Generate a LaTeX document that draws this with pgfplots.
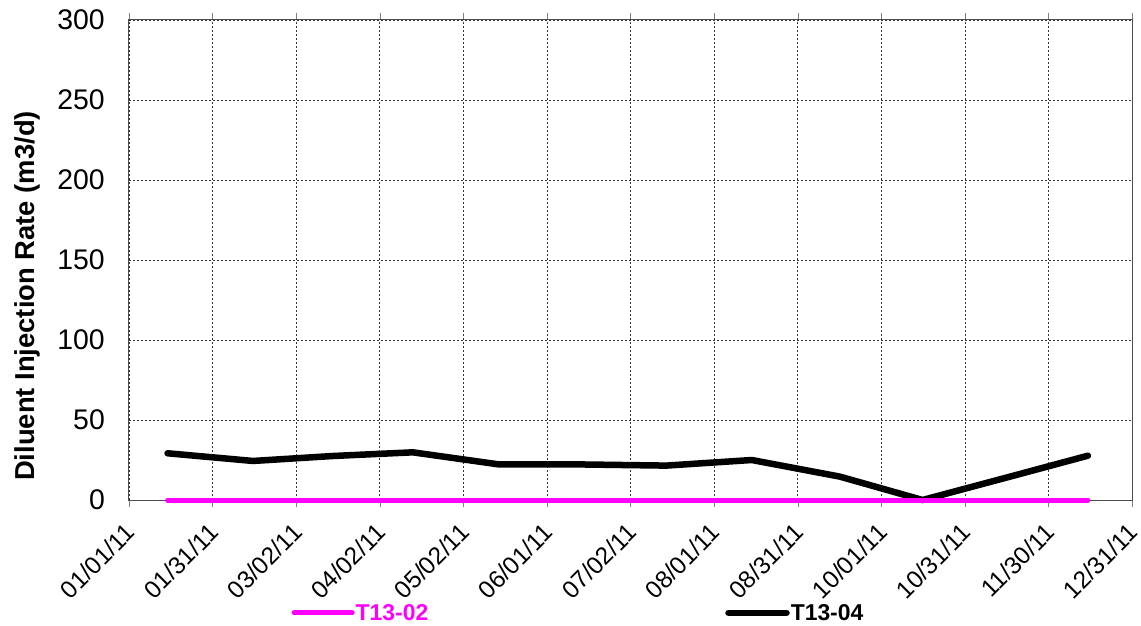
\documentclass[border=0pt]{standalone}
\usepackage{pgfplots}
\pgfplotsset{compat=1.18}
\usepackage{fontspec}
\setmainfont{Liberation Sans}
\definecolor{pinkline}{RGB}{255,0,255}
\begin{document}
\begin{tikzpicture}
\begin{axis}[
  scale only axis,
  width=1003bp, height=480bp,
  xmin=0, xmax=364, ymin=0, ymax=300,
  xtick={0,30.333,60.667,91,121.333,151.667,182,212.333,242.667,273,303.333,333.667,364},
  xticklabels={01/01/11,01/31/11,03/02/11,04/02/11,05/02/11,06/01/11,07/02/11,08/01/11,08/31/11,10/01/11,10/31/11,11/30/11,12/31/11},
  ytick={0,50,100,150,200,250,300},
  /pgf/number format/assume math mode=true,
  xticklabel style={xshift=-5bp, yshift=-13bp, font=\fontsize{24.5}{28}\selectfont, rotate=45, anchor=north east, inner sep=1bp},
  yticklabel style={font=\fontsize{28.5}{32}\selectfont, inner sep=2bp, xshift=-22bp},
  xtick align=outside,
  major tick length=7bp,
  ytick style={draw=none},
  grid=major,
  major grid style={black!80, dash pattern=on 2bp off 2bp, line width=0.6bp},
  axis line style={black!70, line width=1bp},
  ylabel={\bfseries Diluent Injection Rate (m3/d)},
  ylabel style={font=\fontsize{27.5}{32}\selectfont, at={(axis description cs:-0.1017,0.425)}, anchor=center},
  legend columns=2,
  legend style={draw=none, fill=none, at={(axis description cs:0.159,-0.235)}, anchor=west,
    font=\fontsize{23}{27}\selectfont\bfseries,
    nodes={inner sep=1bp},
    /tikz/every even column/.append style={column sep=296bp}},
  legend image code/.code={\draw[#1] (0bp,0bp) -- (58bp,0bp);},
  clip=false,
]
\addlegendimage{pinkline, line width=5bp, line cap=round}
\addlegendentry{\textcolor{pinkline}{T13-02}}
\addlegendimage{black, line width=6.5bp, line cap=round}
\addlegendentry{T13-04}
\addplot[black, line width=6.5bp, line cap=round, line join=round, forget plot] coordinates {
(14,29.2) (45,24.4) (74,27.5) (103,29.8) (134,22.3) (165,22.2) (195,21.5) (226,25) (258,14.6) (288,0) (318,13.8) (348,27.7)
};
\addplot[pinkline, line width=5bp, line cap=round, forget plot] coordinates {
(14,0) (45,0) (74,0) (103,0) (134,0) (165,0) (195,0) (226,0) (258,0) (288,0) (318,0) (348,0)
};
\end{axis}
\pgfresetboundingbox
\path (-129bp,-126bp) rectangle (1012bp,500bp);
\end{tikzpicture}
\end{document}
